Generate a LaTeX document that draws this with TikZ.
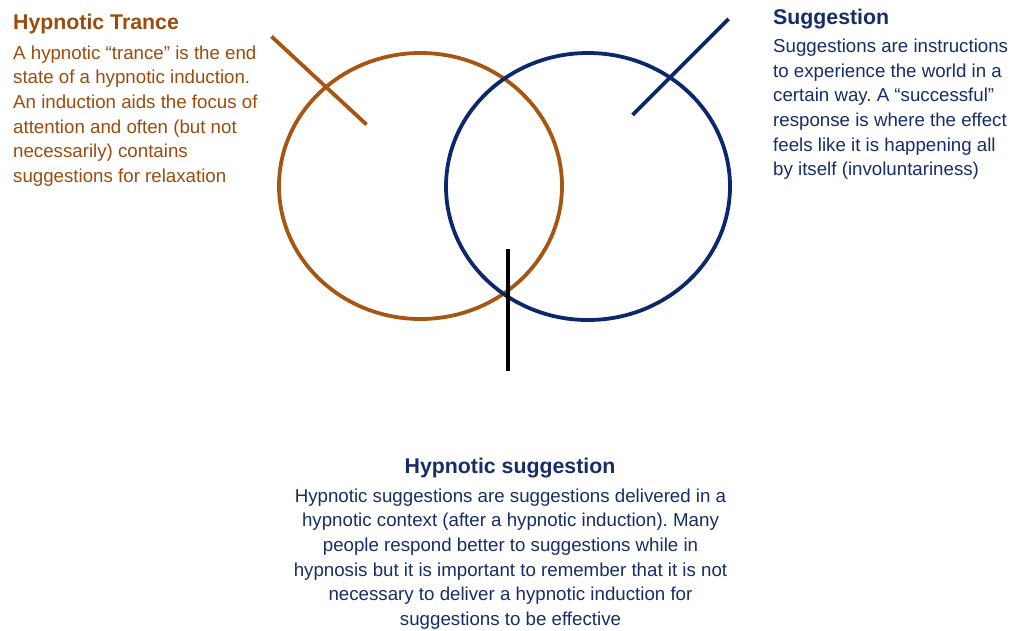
\documentclass[tikz,border=0pt]{standalone}
\usepackage{fontspec}
\setmainfont{Liberation Sans}
\frenchspacing
\usepackage{tikz}
\usetikzlibrary{shapes.geometric}

\definecolor{trancebrown}{RGB}{156,75,12}
\definecolor{ringbrown}{RGB}{166,86,18}
\definecolor{suggnavy}{RGB}{22,45,103}
\definecolor{ringnavy}{RGB}{12,40,108}

\tikzset{
  head/.style={inner sep=0pt, anchor=base west, font=\fontsize{21.3}{24}\selectfont\bfseries},
  blurb/.style={inner sep=0pt, anchor=north west, align=left, font=\fontsize{18.7}{24.6}\selectfont},
  ring/.style={draw, ellipse, line width=3.8pt, inner sep=0pt},
  tick/.style={line width=3.8pt}
}

\begin{document}
\begin{tikzpicture}[x=1pt,y=-1pt]
            \useasboundingbox (0,0) rectangle (1011,630);
            % the two rings
            \node[ring, ringbrown, minimum width=283pt, minimum height=266pt] (trance) at (420.5,186) {};
            \node[ring, ringnavy, minimum width=284pt, minimum height=267pt] (sugg) at (588,186.5) {};
            % ticks through the rings
            \coordinate (tA) at (271.5,36.5);
            \coordinate (tB) at (366.5,124.5);
            \coordinate (sA) at (728.5,19);
            \coordinate (sB) at (632.5,115);
            \coordinate (hA) at (508.3,249);
            \coordinate (hB) at (508.3,371);
            \draw[tick, ringbrown] (tA) -- (tB);
            \draw[tick, ringnavy] (sA) -- (sB);
            \draw[tick, black] (hA) -- (hB);
            % left text
            \node[head, trancebrown] (tranceHead) at (13,29) {Hypnotic Trance};
            \node[blurb, trancebrown] (tranceText) at (13,45.5) {A hypnotic “trance” is the end\\
              state of a hypnotic induction.\\
              An induction aids the focus of\\
              attention and often (but not\\
              necessarily) contains\\
              suggestions for relaxation};
            % right text
            \node[head, suggnavy] (suggHead) at (773,24) {Suggestion};
            \node[blurb, suggnavy] (suggText) at (773,39) {Suggestions are instructions\\
              to experience the world in a\\
              certain way. A “successful”\\
              response is where the effect\\
              feels like it is happening all\\
              by itself (involuntariness)};
            % bottom text
            \node[head, suggnavy, anchor=base] (hypHead) at (510,473) {Hypnotic suggestion};
            \node[blurb, suggnavy, anchor=north, align=center] (hypText) at (510.5,488.5) {Hypnotic suggestions are suggestions delivered in a\\
              hypnotic context (after a hypnotic induction). Many\\
              people respond better to suggestions while in\\
              hypnosis but it is important to remember that it is not\\
              necessary to deliver a hypnotic induction for\\
              suggestions to be effective};
        \end{tikzpicture}
\end{document}
